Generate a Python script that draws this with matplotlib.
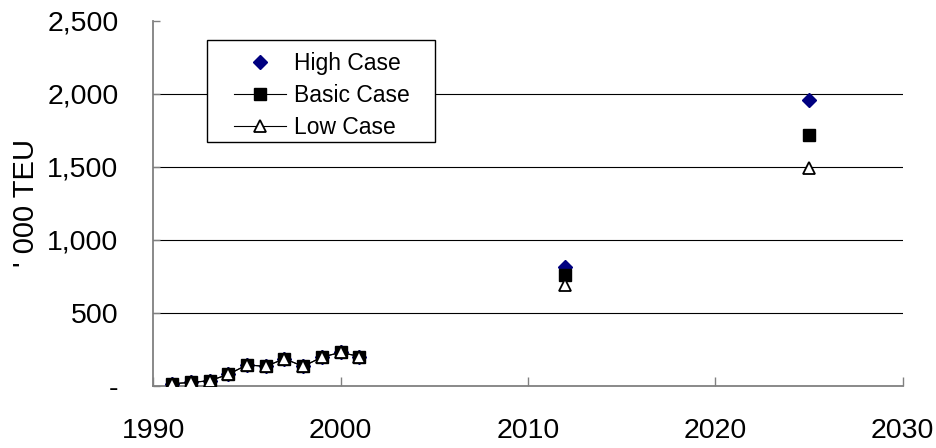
import numpy as np
import matplotlib
matplotlib.use('Agg')
import matplotlib.pyplot as plt
from matplotlib.patches import Rectangle
from matplotlib.ticker import FuncFormatter

plt.rcParams['font.family'] = ['Liberation Sans', 'DejaVu Sans']

# container throughput, '000 TEU
hist_years = [1991, 1992, 1993, 1994, 1995, 1996, 1997, 1998, 1999, 2000, 2001]
hist_teu = [14, 22, 34, 77, 143, 132, 185, 132, 196, 228, 200]

forecast_years = [2012, 2025]
high_case = [810, 1955]
basic_case = [760, 1715]
low_case = [690, 1490]


def join(hist, fc):
    # blank cells between actuals and the forecast years
    x = hist_years + [np.nan] + forecast_years[:1] + [np.nan] + forecast_years[1:]
    y = hist + [np.nan] + fc[:1] + [np.nan] + fc[1:]
    return x, y


fig = plt.figure(figsize=(9.37, 4.48), dpi=100)
ax = fig.add_axes([153.3 / 937, 1 - 385.7 / 448, 749.4 / 937, 365 / 448])

x, y = join(hist_teu, high_case)
ax.plot(x, y, linestyle='none', marker='D', markersize=7, color='#000080',
        label='High Case', zorder=3)
x, y = join(hist_teu, basic_case)
ax.plot(x, y, color='black', linewidth=0.8, marker='s', markersize=8,
        markerfacecolor='black', markeredgecolor='black', label='Basic Case', zorder=4)
x, y = join(hist_teu, low_case)
ax.plot(x, y, color='black', linewidth=0.8, marker='^', markersize=9,
        markerfacecolor='white', markeredgecolor='black', markeredgewidth=1.3,
        label='Low Case', zorder=5)

ax.set_xlim(1990, 2030)
ax.set_ylim(0, 2500)
ax.set_xticks(range(1990, 2031, 10))
ax.set_yticks(range(0, 2501, 500))
ax.yaxis.set_major_formatter(FuncFormatter(lambda v, p: '-' if v == 0 else f'{int(v):,}'))

for v in range(500, 2001, 500):
    ax.axhline(v, color='black', linewidth=0.8, zorder=1)

for s in ['top', 'right']:
    ax.spines[s].set_visible(False)
for s in ['left', 'bottom']:
    ax.spines[s].set_color('#808080')
    ax.spines[s].set_linewidth(1.3)

ax.tick_params(axis='y', direction='in', length=5, width=1, color='#808080',
               labelsize=20.5, pad=25)
ax.tick_params(axis='x', direction='in', length=6.5, width=1, color='#808080',
               labelsize=20.5, pad=23)

ax.set_ylabel("' 000 TEU", fontsize=21)
ax.yaxis.set_label_coords(-(153.3 - 40) / 749.4, 0.5)

# legend box, white so the gridline stops at its edge
ax.add_patch(Rectangle((207 / 937, 1 - 142 / 448), 228 / 937, 102 / 448,
                       transform=fig.transFigure, facecolor='white',
                       edgecolor='black', linewidth=1, zorder=6, clip_on=False))
leg = ax.legend(loc='upper left', bbox_to_anchor=(229 / 937, 1 - 47 / 448),
                bbox_transform=fig.transFigure, frameon=False, fontsize=16.5,
                handlelength=2.3, handletextpad=0.35, labelspacing=0.4,
                borderpad=0.2, borderaxespad=0)
leg.set_zorder(7)

fig.savefig('out.png', dpi=100)
